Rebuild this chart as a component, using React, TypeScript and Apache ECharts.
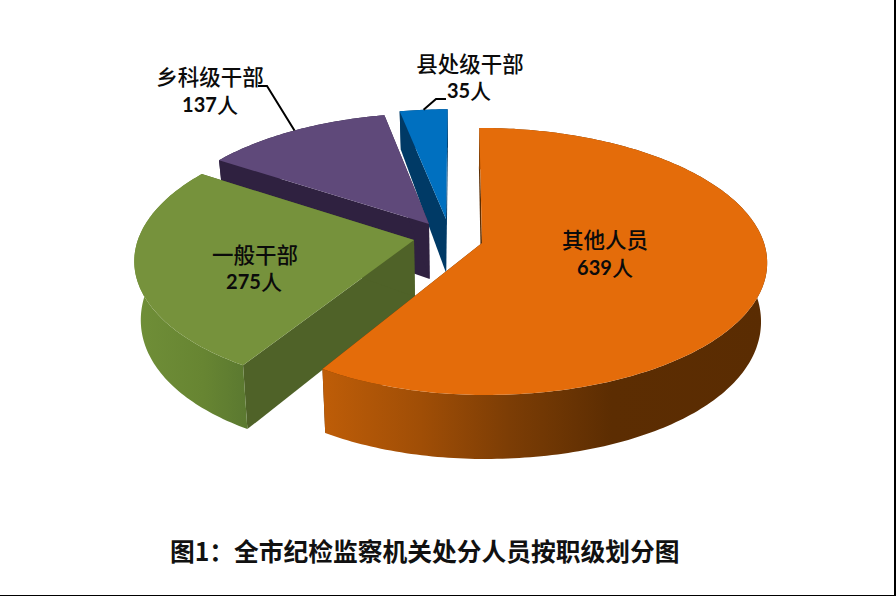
import React, { useEffect, useRef } from "react";
import * as echarts from "echarts";

// ---- data ----
const categories = ["其他人员", "一般干部", "乡科级干部", "县处级干部"];
const values = [639, 275, 137, 35];
const unit = "人";
const titleText = "图1：全市纪检监察机关处分人员按职级划分图";

// ---- styling per slice ----
const topColors = ["#E46C0A", "#76923C", "#5F497A", "#0070C0"];
const cutColors = ["#5C2D02", "#4F6228", "#2F2140", "#003A66"];
const wallStops: [number, string][][] = [
  [[0, "#BE5D08"], [0.22, "#A04E06"], [0.42, "#7C3D05"], [0.65, "#5C2D02"], [1, "#5A2C02"]],
  [[0, "#708F38"], [0.6, "#678532"], [1, "#5A7830"]],
  [[0, "#2F2140"], [1, "#2F2140"]],
  [[0, "#003A66"], [1, "#003A66"]],
];

// ---- layout constants ----
// Screen position of each slice's apex (the explosion of the pie)
const apexes = [[482, 243], [414, 240], [429, 224], [446, 219]];
const wallRange = [[323, 767], [133, 250], [220, 390], [399, 447]];
const leftRadius = [272, 277, 277, 277];
const labelPos = [
  { x: 605, y: 238, vx: 605, vy: 267 },
  { x: 255, y: 253, vx: 254, vy: 281 },
  { x: 210, y: 75, vx: 210, vy: 104 },
  { x: 470, y: 62, vx: 469, vy: 90 },
];
// elbow points of the leader lines: slice index -> points after the arc anchor
const leaders: Record<number, number[][]> = {
  2: [[267, 86], [258, 86]],
  3: [[436, 99], [446, 99]],
};

// ---- perspective projection of the pie's ground plane ----
const CX = 460, CY = 243, A = 131, P = 0.138;
const R_RIGHT = 282;
const BOTTOM_SCALE = 0.98;

function project(X: number, Y: number): number[] {
  const k = 1 + P * Y;
  return [CX + X / k, CY - (A * Y) / k];
}
function unproject(sx: number, sy: number): number[] {
  const s = CY - sy;
  const Y = s / (A - P * s);
  return [(sx - CX) * (1 + P * Y), Y];
}
function lower(p: number[]): number[] {
  const t = p[1] - 114;
  const depth = 39 + 0.1834 * t - 0.000336 * t * t;
  return [CX + (p[0] - CX) * BOTTOM_SCALE, p[1] + depth];
}

const total = values.reduce((a, b) => a + b, 0);

function renderItem(params: any, api: any) {
  const i = params.dataIndex;
  const value = api.value(0);
  let before = 0;
  for (let j = 0; j < i; j++) before += values[j];
  const a0 = (before / total) * Math.PI * 2;
  const a1 = ((before + value) / total) * Math.PI * 2;

  const [X0, Y0] = unproject(apexes[i][0], apexes[i][1]);
  const at = (a: number) => {
    const sn = Math.sin(a);
    return project(X0 + (sn < 0 ? leftRadius[i] : R_RIGHT) * sn, Y0 + Math.cos(a));
  };
  const apex = project(X0, Y0);

  const arc: number[][] = [];
  const steps = Math.max(4, Math.ceil(((a1 - a0) * 180) / Math.PI));
  for (let s = 0; s <= steps; s++) arc.push(at(a0 + ((a1 - a0) * s) / steps));

  const base = (3 - i) * 10 + 1;
  const children: any[] = [];
  const first = arc[0];
  const last = arc[arc.length - 1];

  children.push({
    type: "polygon",
    z2: base,
    shape: { points: [apex, first, lower(first), lower(apex)] },
    style: { fill: cutColors[i] },
  });
  children.push({
    type: "polygon",
    z2: base,
    shape: { points: [apex, last, lower(last), lower(apex)] },
    style: { fill: cutColors[i] },
  });
  children.push({
    type: "polygon",
    z2: base + 1,
    shape: { points: [...arc, ...arc.slice().reverse().map(lower)] },
    style: {
      fill: {
        type: "linear",
        global: true,
        x: wallRange[i][0],
        y: 0,
        x2: wallRange[i][1],
        y2: 0,
        colorStops: wallStops[i].map(([offset, color]) => ({ offset, color })),
      },
    },
  });
  children.push({
    type: "polygon",
    z2: base + 2,
    shape: { points: [apex, ...arc] },
    style: { fill: topColors[i] },
  });

  const lp = labelPos[i];
  children.push({
    type: "text",
    z2: 100,
    style: {
      x: lp.x,
      y: lp.y,
      text: categories[i],
      fill: "#0b0b0b",
      align: "center",
      verticalAlign: "middle",
      font: '500 21.5px "Noto Sans CJK SC"',
    },
  });
  children.push({
    type: "text",
    z2: 100,
    style: {
      x: lp.vx,
      y: lp.vy,
      text: `{n|${value}}{u|${unit}}`,
      align: "center",
      verticalAlign: "middle",
      rich: {
        n: { font: 'bold 20px Lato', fill: "#0b0b0b" },
        u: { font: '500 21px "Noto Sans CJK SC"', fill: "#0b0b0b" },
      },
    },
  });

  if (leaders[i]) {
    const anchor = at((a0 + a1) / 2);
    children.push({
      type: "polyline",
      z2: 90,
      shape: { points: [anchor, ...leaders[i]] },
      style: { stroke: "#000000", lineWidth: 2, fill: "none" },
    });
  }
  return { type: "group", children };
}

export default function App() {
  const ref = useRef<HTMLDivElement>(null);
  useEffect(() => {
    const chart = echarts.init(ref.current!, undefined, { renderer: "svg" });
    chart.setOption({
      animation: false,
      backgroundColor: "#ffffff",
      title: {
        text: titleText,
        left: 170,
        top: 536,
        padding: 0,
        textStyle: {
          fontFamily: '"Noto Sans CJK SC"',
          fontWeight: "bold",
          fontSize: 24.75,
          color: "#111111",
          lineHeight: 28,
        },
      },
      graphic: [
        {
          type: "rect",
          shape: { x: 0, y: 595, width: 896, height: 1 },
          style: { fill: "#000000" },
        },
        {
          type: "rect",
          shape: { x: 894, y: 0, width: 2, height: 596 },
          style: { fill: "#000000" },
        },
      ],
      series: [
        {
          type: "custom",
          coordinateSystem: "none",
          silent: true,
          clip: false,
          data: values.map((v, i) => ({ name: categories[i], value: [v] })),
          renderItem,
        },
      ],
    });
    return () => chart.dispose();
  }, []);
  return (
    <div
      ref={ref}
      style={{ position: "fixed", left: 0, top: 0, width: 896, height: 596 }}
    />
  );
}
